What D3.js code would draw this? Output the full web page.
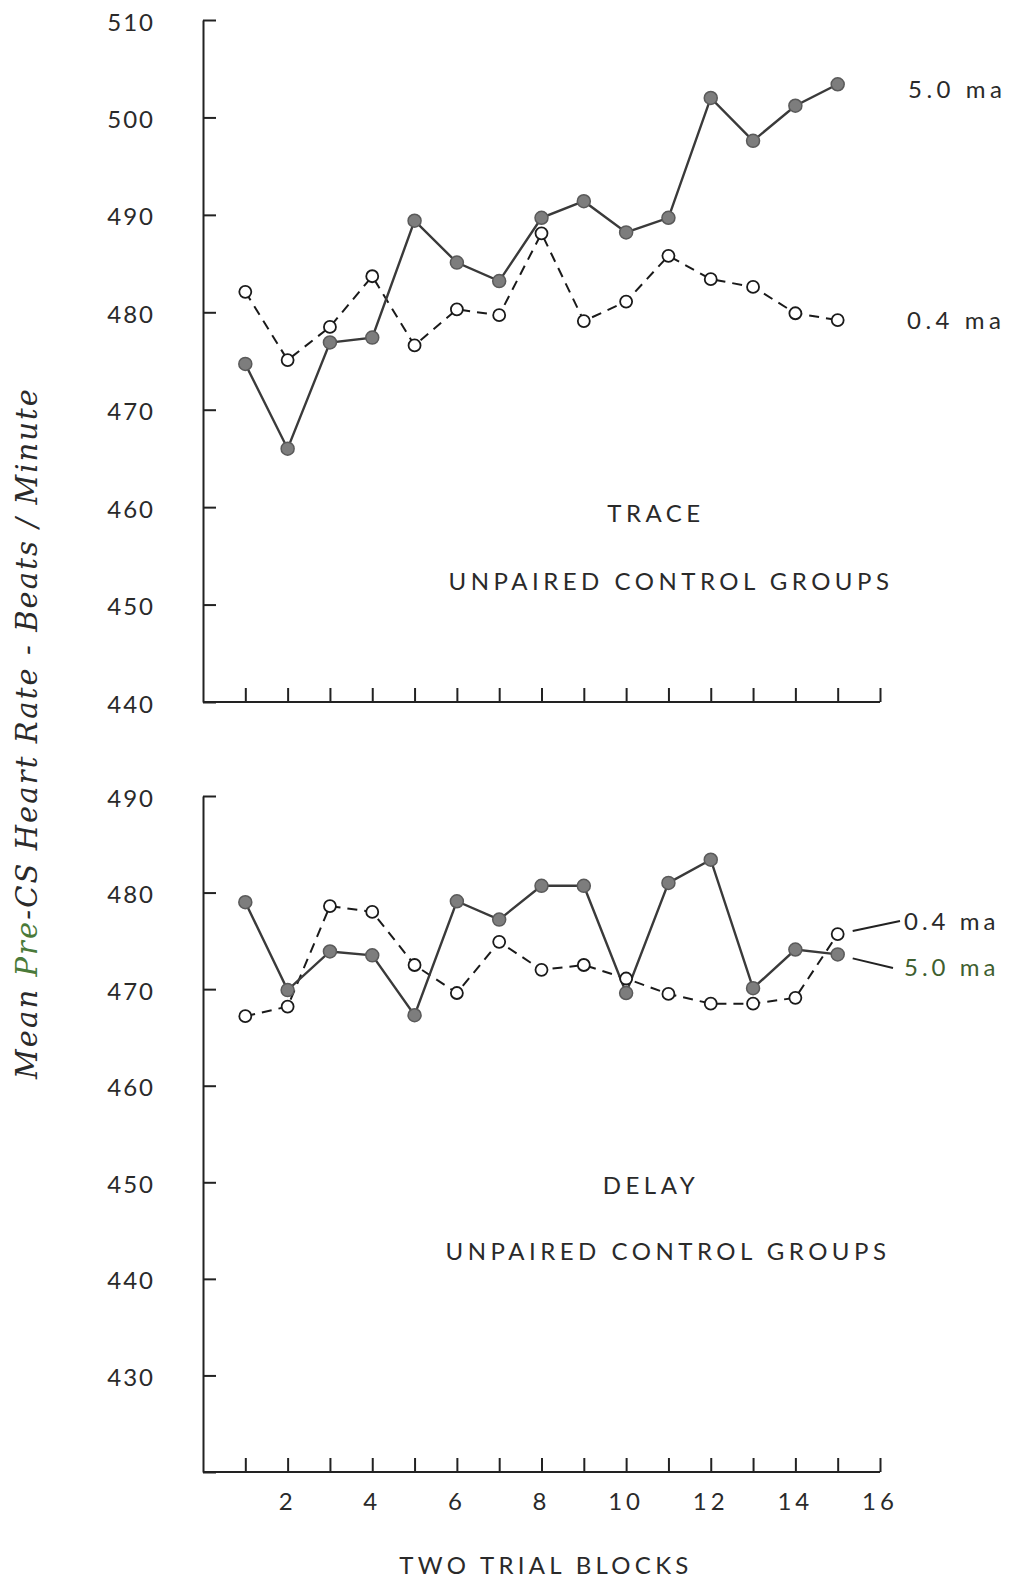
<!DOCTYPE html>
<html lang="en">

<head>
  <meta charset='utf-8'>
  <script src='https://cdn.jsdelivr.net/npm/d3@7'></script>
  <title></title>
  <style>
    body {
      margin: 0;
      background: #fff;
    }

    .axis path,
    .axis line {
      fill: none;
      stroke: #222;
      stroke-width: 2px;
    }

    .axis text,
    .lbl {
      font-family: Lato, 'Open Sans', sans-serif;
      fill: #2a2a2a;
    }
  </style>
</head>

<body>
  <div id='chart'></div>
  <script>
    // Values.

    var blocks = [1, 2, 3, 4, 5, 6, 7, 8, 9, 10, 11, 12, 13, 14, 15];

    var trace50 = [474.7, 466.0, 476.9, 477.4, 489.4, 485.1, 483.2, 489.7, 491.4, 488.2, 489.7, 502.0, 497.6, 501.2, 503.4];
    var trace04 = [482.1, 475.1, 478.5, 483.7, 476.6, 480.3, 479.7, 488.1, 479.1, 481.1, 485.8, 483.4, 482.6, 479.9, 479.2];

    var delay50 = [479.0, 469.9, 473.9, 473.5, 467.3, 479.1, 477.2, 480.7, 480.7, 469.6, 481.0, 483.4, 470.1, 474.1, 473.6];
    var delay04 = [467.2, 468.2, 478.6, 478.0, 472.5, 469.6, 474.9, 472.0, 472.5, 471.1, 469.5, 468.5, 468.5, 469.1, 475.7];

    var xTicks = d3.range(1, 17);
    var xTickLabels = [2, 4, 6, 8, 10, 12, 14, 16];
    var topTicks = [440, 450, 460, 470, 480, 490, 500, 510];
    var bottomTicks = [420, 430, 440, 450, 460, 470, 480, 490];

    var width = 1011,
      height = 1580;

    var svg = d3.select('#chart')
      .append('svg')
      .attr('width', width)
      .attr('height', height);

    var x = d3.scaleLinear()
      .domain([0, 16])
      .range([203, 880]);

    var yTop = d3.scaleLinear()
      .domain([440, 510])
      .range([702, 20]);

    var yBottom = d3.scaleLinear()
      .domain([420, 490])
      .range([1472, 796]);

    // One panel: axes, two series, captions.

    function panel(y, ticks, labelled, hi, lo, captions) {
      var g = svg.append('g');

      g.append('g')
        .attr('class', 'axis')
        .attr('transform', 'translate(' + x(0) + ',0)')
        .call(d3.axisRight(y)
          .tickValues(ticks)
          .tickSize(13)
          .tickSizeOuter(0)
          .tickFormat(''));

      g.selectAll('.ylab')
        .data(ticks.filter(function(d) { return d !== ticks[0] || labelled; }))
        .enter()
        .append('text')
        .attr('class', 'lbl')
        .attr('x', 155)
        .attr('y', function(d) { return y(d) + 1; })
        .attr('text-anchor', 'end')
        .attr('dominant-baseline', 'central')
        .style('font-size', '24px')
        .style('letter-spacing', '2px')
        .text(function(d) { return d; });

      var xAxis = g.append('g')
        .attr('class', 'axis')
        .attr('transform', 'translate(0,' + y.range()[0] + ')')
        .call(d3.axisTop(x)
          .tickValues(xTicks)
          .tickSize(14)
          .tickSizeOuter(0)
          .tickFormat(''));

      xAxis.select('.domain').attr('d', 'M' + x(0) + ',0H' + x(16));

      var line = d3.line()
        .x(function(d, i) { return x(blocks[i]); })
        .y(function(d) { return y(d); });

      g.append('path')
        .datum(lo)
        .attr('d', line)
        .attr('fill', 'none')
        .attr('stroke', '#1a1a1a')
        .attr('stroke-width', 2)
        .attr('stroke-dasharray', '10,7');

      g.append('path')
        .datum(hi)
        .attr('d', line)
        .attr('fill', 'none')
        .attr('stroke', '#3a3a3a')
        .attr('stroke-width', 2.4);

      g.selectAll('.hi')
        .data(hi)
        .enter()
        .append('circle')
        .attr('cx', function(d, i) { return x(blocks[i]); })
        .attr('cy', function(d) { return y(d); })
        .attr('r', 6.5)
        .attr('fill', '#7d7d7d')
        .attr('stroke', '#5a5a5a')
        .attr('stroke-width', 1.5);

      g.selectAll('.lo')
        .data(lo)
        .enter()
        .append('circle')
        .attr('cx', function(d, i) { return x(blocks[i]); })
        .attr('cy', function(d) { return y(d); })
        .attr('r', 6)
        .attr('fill', '#fff')
        .attr('stroke', '#1a1a1a')
        .attr('stroke-width', 1.8);

      captions.forEach(function(c) {
        g.append('text')
          .attr('class', 'lbl')
          .attr('x', c.x)
          .attr('y', c.y)
          .attr('text-anchor', 'middle')
          .attr('dominant-baseline', 'central')
          .style('font-size', '24px')
          .style('letter-spacing', '4.5px')
          .text(c.t);
      });

      return g;
    }

    var topPanel = panel(yTop, topTicks, true, trace50, trace04, [
      { t: 'TRACE', x: 656, y: 512 },
      { t: 'UNPAIRED CONTROL GROUPS', x: 671, y: 580 }
    ]);

    var bottomPanel = panel(yBottom, bottomTicks, false, delay50, delay04, [
      { t: 'DELAY', x: 651, y: 1184 },
      { t: 'UNPAIRED CONTROL GROUPS', x: 668, y: 1250 }
    ]);

    // Series labels, upper panel: beside the last point.

    var last = blocks.length - 1;

    topPanel.append('text')
      .attr('class', 'lbl')
      .attr('x', 908)
      .attr('y', yTop(trace50[last]) + 4)
      .attr('dominant-baseline', 'central')
      .style('font-size', '24px')
      .style('letter-spacing', '4.5px')
      .text('5.0 ma');

    topPanel.append('text')
      .attr('class', 'lbl')
      .attr('x', 907)
      .attr('y', yTop(trace04[last]) - 1)
      .attr('dominant-baseline', 'central')
      .style('font-size', '24px')
      .style('letter-spacing', '4.5px')
      .text('0.4 ma');

    // Lower panel: labels with leader lines.

    var lead = [
      { v: delay04[last], lx: 900, ty: 920, t: '0.4 ma', c: '#2a2a2a' },
      { v: delay50[last], lx: 893, ty: 966, t: '5.0 ma', c: '#3f5f30' }
    ];

    lead.forEach(function(d) {
      bottomPanel.append('line')
        .attr('x1', x(blocks[last]) + 15)
        .attr('y1', yBottom(d.v) + (d.ty > 940 ? 4 : -3))
        .attr('x2', d.lx)
        .attr('y2', d.ty + (d.ty > 940 ? 2 : 1))
        .attr('stroke', '#222')
        .attr('stroke-width', 2);

      bottomPanel.append('text')
        .attr('class', 'lbl')
        .attr('x', 904)
        .attr('y', d.ty)
        .attr('dominant-baseline', 'central')
        .style('font-size', '24px')
        .style('letter-spacing', '4px')
        .style('fill', d.c)
        .text(d.t);
    });

    // X tick labels below the lower panel.

    svg.selectAll('.xlab')
      .data(xTickLabels)
      .enter()
      .append('text')
      .attr('class', 'lbl')
      .attr('x', function(d) { return x(d); })
      .attr('y', 1500)
      .attr('text-anchor', 'middle')
      .attr('dominant-baseline', 'central')
      .style('font-size', '24px')
      .style('letter-spacing', '4px')
      .text(function(d) { return d; });

    svg.append('text')
      .attr('class', 'lbl')
      .attr('x', 546)
      .attr('y', 1564)
      .attr('text-anchor', 'middle')
      .attr('dominant-baseline', 'central')
      .style('font-size', '24px')
      .style('letter-spacing', '4.3px')
      .text('TWO TRIAL BLOCKS');

    // Rotated y title, italic serif.

    var title = svg.append('text')
      .attr('transform', 'translate(27,734) rotate(-90)')
      .attr('text-anchor', 'middle')
      .attr('dominant-baseline', 'central')
      .attr('textLength', 690)
      .attr('lengthAdjust', 'spacing')
      .style('font-family', "'DejaVu Serif', 'Liberation Serif', serif")
      .style('font-style', 'italic')
      .style('font-size', '29px')
      .style('fill', '#2a2a2a');

    title.append('tspan').text('Mean ');
    title.append('tspan').style('fill', '#4a7a3a').text('Pre');
    title.append('tspan').text('-CS Heart Rate - Beats / Minute');
  </script>
</body>

</html>
